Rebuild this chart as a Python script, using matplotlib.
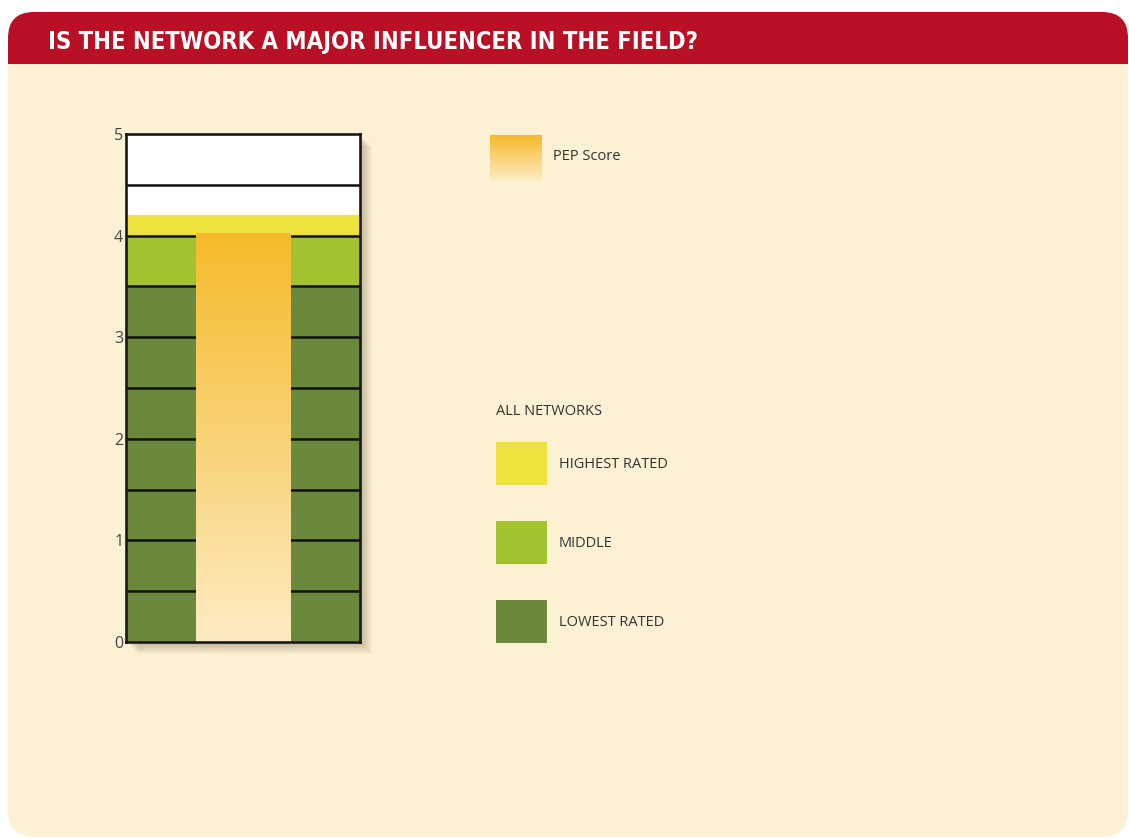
import numpy as np
import matplotlib
matplotlib.use("Agg")
from matplotlib import pyplot as plt
from matplotlib.colors import LinearSegmentedColormap
from matplotlib.patches import FancyBboxPatch, Rectangle

# Chart data
title = "IS THE NETWORK A MAJOR INFLUENCER IN THE FIELD?"
band_names = ["LOWEST RATED", "MIDDLE", "HIGHEST RATED"]
band_low = [0.0, 3.5, 4.0]
band_high = [3.5, 4.0, 4.2]
band_colors = ["#6B893D", "#A3C232", "#EDE33A"]
pep_label = "PEP Score"
pep_score = 4.02
y_ticks = [0, 1, 2, 3, 4, 5]
grid_levels = [0.5, 1.0, 1.5, 2.0, 2.5, 3.0, 3.5, 4.0, 4.5]

W, H = 1129, 838
RED = "#BA1026"
CREAM = "#FDF1D5"
TEXT = "#333333"
pep_cmap = LinearSegmentedColormap.from_list("pep", ["#FDEBC3", "#F6BA2A"])

fig = plt.figure(figsize=(W / 100, H / 100), dpi=100)
fig.patch.set_facecolor("white")

# Background layer in pixel coordinates
bg = fig.add_axes([0, 0, 1, 1])
bg.set_xlim(0, W)
bg.set_ylim(H, 0)
bg.axis("off")

panel = FancyBboxPatch((8, 12), W - 9, H - 12 - 1, boxstyle="round,pad=0,rounding_size=26",
                       facecolor=CREAM, edgecolor="none")
bg.add_patch(panel)
header = Rectangle((0, 0), W + 40, 64, facecolor=RED, edgecolor="none")
bg.add_patch(header)
header.set_clip_path(panel)
bg.text(48, 42, title, color="white", fontsize=17, fontweight="bold",
        family="DejaVu Sans", fontstretch="condensed", va="center", ha="left")

# Soft drop shadow of the gauge frame
x0, y0, x1, y1 = 126, 134, 360, 642
for k in range(1, 13):
    bg.add_patch(Rectangle((x0 + k, y0 + k), x1 - x0, y1 - y0,
                           facecolor="#7a6a45", edgecolor="none", alpha=0.04))

# Gauge axes
ax = fig.add_axes([x0 / W, (H - y1) / H, (x1 - x0) / W, (y1 - y0) / H])
ax.set_facecolor("white")

ax.bar(0.5, np.array(band_high) - np.array(band_low), bottom=band_low, width=1.0,
       color=band_colors, edgecolor="none", zorder=1)
ax.hlines(grid_levels, 0, 1, colors="#111111", linewidth=1.8, zorder=2)

grad = np.linspace(0, 1, 256).reshape(-1, 1)
ax.imshow(grad, extent=[0.3, 0.705, 0, pep_score], origin="lower", aspect="auto",
          cmap=pep_cmap, zorder=3)
ax.set_xlim(0, 1)
ax.set_ylim(0, 5)

for s in ax.spines.values():
    s.set_color("#1a1a1a")
    s.set_linewidth(1.9)
    s.set_zorder(5)
ax.set_xticks([])
ax.set_yticks(y_ticks)
ax.set_yticklabels([str(t) for t in y_ticks], color="#444444", fontsize=11.5, family="Open Sans")
ax.tick_params(axis="y", length=0, pad=2)

# Legend: PEP score swatch
lx = 490
sw = fig.add_axes([lx / W, (H - 180) / H, 52 / W, 45 / H])
sw.imshow(grad, extent=[0, 1, 0, 1], origin="lower", aspect="auto", cmap=pep_cmap)
sw.axis("off")
bg.text(553, 157, pep_label, fontsize=10.5, color=TEXT, family="Open Sans", va="center")

# Legend: all networks
bg.text(496, 411, "ALL NETWORKS", fontsize=10.5, color=TEXT, family="Open Sans", va="center")
sw_tops = [600, 521, 442]
for name, color, top in zip(band_names, band_colors, sw_tops):
    bg.add_patch(Rectangle((496, top), 51, 43, facecolor=color, edgecolor="none"))
    bg.text(559, top + 22, name, fontsize=10.5, color=TEXT, family="Open Sans", va="center")

fig.savefig("out.png", dpi=100)
